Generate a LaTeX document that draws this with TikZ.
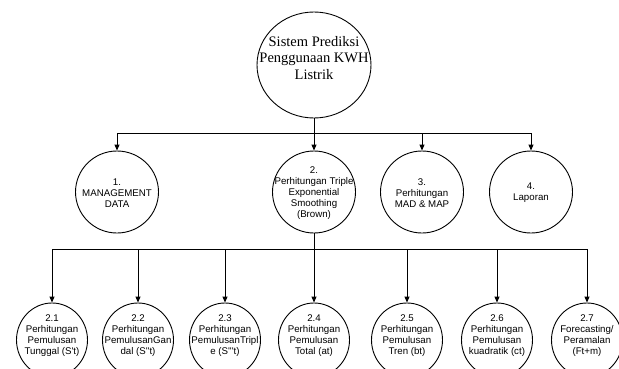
\documentclass[tikz,border=0pt]{standalone}
\usepackage{fontspec}
\setmainfont{Liberation Serif}
\newfontfamily\arial{Liberation Sans}
\usetikzlibrary{shapes.geometric,arrows.meta}
\begin{document}
\begin{tikzpicture}[x=1pt,y=-1pt,
 proc/.style={ellipse,draw,line width=0.9pt,inner sep=0pt},
 rootproc/.style={proc,minimum width=114pt,minimum height=106pt},
 lvtwo/.style={proc,minimum width=83pt,minimum height=82pt},
 lvthree/.style={proc,minimum width=71pt,minimum height=74pt},
 lbl/.style={align=center,inner sep=0pt,font=\arial\fontsize{9.7}{11}\selectfont},
 rootlbl/.style={align=center,inner sep=0pt,font=\fontsize{14.5}{16.2}\selectfont},
 conn/.style={line width=1pt},
 arr/.style={conn,-{Triangle[length=6pt,width=5pt]}}]
\clip (0,0) rectangle (619,369);
\fill[white] (0,0) rectangle (619,369);
% root
\node[rootproc] (root) at (314,65) {};
\node[rootlbl] (rootT) at (314,58) {Sistem Prediksi\\Penggunaan KWH\\Listrik};
% level 2
\node[lvtwo] (p1) at (117,192) {};
\node[lbl] (p1T) at (117,193) {1.\\MANAGEMENT\\DATA};
\node[lvtwo] (p2) at (314,192) {};
\node[lbl] (p2T) at (314,193) {2.\\Perhitungan Triple\\Exponential\\Smoothing\\(Brown)};
\node[lvtwo] (p3) at (422,192) {};
\node[lbl] (p3T) at (422,193) {3.\\Perhitungan\\MAD \& MAP};
\node[lvtwo] (p4) at (531,192) {};
\node[lbl] (p4T) at (531,193) {4.\\Laporan};
% level 3
\node[lvthree] (q1) at (52,340) {};
\node[lbl] (q1T) at (52,335.5) {2.1\\Perhitungan\\Pemulusan\\Tunggal (S't)};
\node[lvthree] (q2) at (138,340) {};
\node[lbl] (q2T) at (138,335.5) {2.2\\Perhitungan\\PemulusanGan\\dal (S''t)};
\node[lvthree] (q3) at (225,340) {};
\node[lbl] (q3T) at (225,335.5) {2.3\\Perhitungan\\PemulusanTripl\\e (S'''t)};
\node[lvthree] (q4) at (314,340) {};
\node[lbl] (q4T) at (314,335.5) {2.4\\Perhitungan\\Pemulusan\\Total (at)};
\node[lvthree] (q5) at (407,340) {};
\node[lbl] (q5T) at (407,335.5) {2.5\\Perhitungan\\Pemulusan\\Tren (bt)};
\node[lvthree] (q6) at (497,340) {};
\node[lbl] (q6T) at (497,335.5) {2.6\\Perhitungan\\Pemulusan\\kuadratik (ct)};
\node[lvthree] (q7) at (587,340) {};
\node[lbl] (q7T) at (587,335.5) {2.7\\Forecasting/\\Peramalan\\(Ft+m)};
% connectors
\coordinate (j1) at (314,133);
\coordinate (j2) at (314,249);
\draw[arr] (root.south) -- (p2.north);
\draw[arr] (j1) -| (p1.north);
\draw[arr] (j1) -| (p3.north);
\draw[arr] (j1) -| (p4.north);
\draw[arr] (p2.south) -- (q4.north);
\draw[arr] (j2) -| (q1.north);
\draw[arr] (j2) -| (q2.north);
\draw[arr] (j2) -| (q3.north);
\draw[arr] (j2) -| (q5.north);
\draw[arr] (j2) -| (q6.north);
\draw[arr] (j2) -| (q7.north);
\end{tikzpicture}
\end{document}
